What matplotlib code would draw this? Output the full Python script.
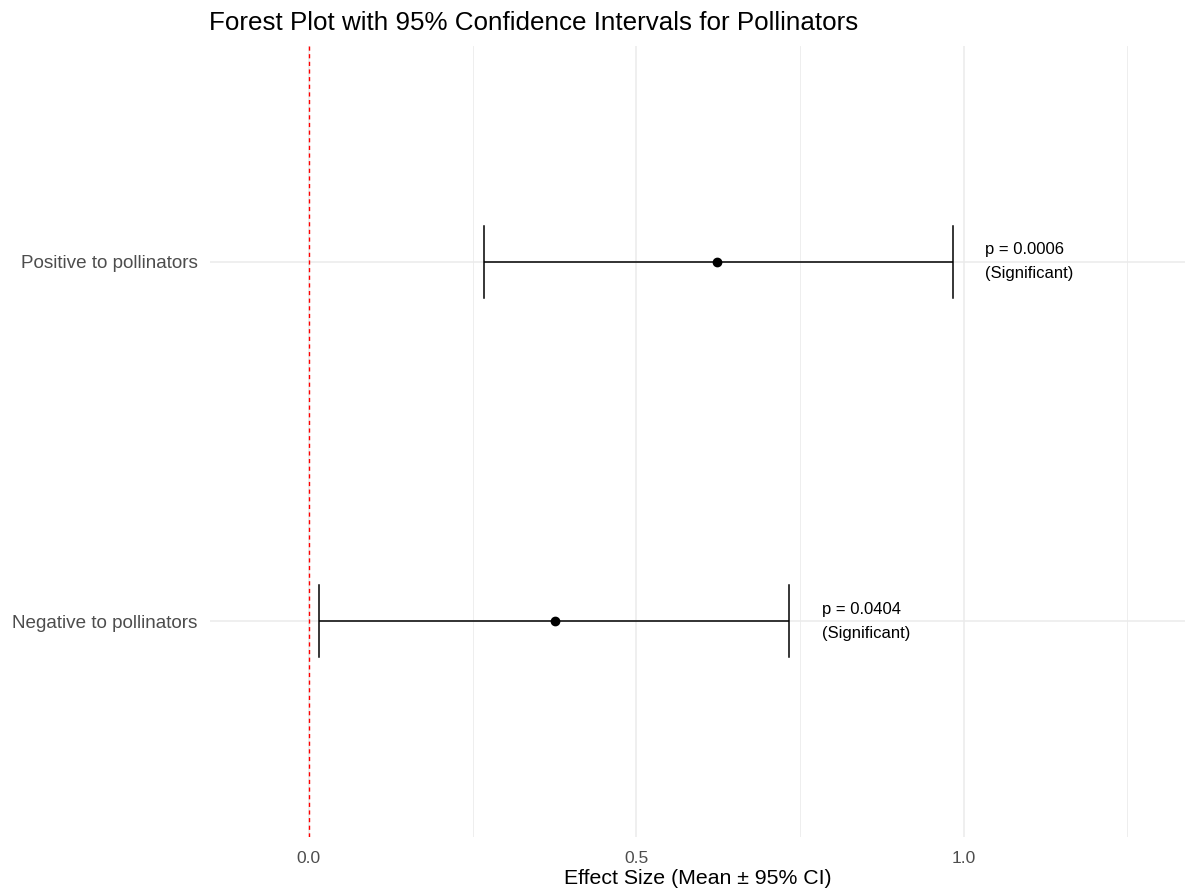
import matplotlib.pyplot as plt

plt.rcParams['font.family'] = ['Liberation Sans', 'DejaVu Sans']

# Effect sizes with 95% confidence intervals
groups = ["Negative to pollinators", "Positive to pollinators"]
means = [0.376, 0.624]
lower = [0.0153, 0.2676]
upper = [0.734, 0.983]
p_values = [0.0404, 0.0006]
xticks = [0.0, 0.5, 1.0]
xminor = [0.25, 0.75, 1.25]

fig = plt.figure(figsize=(11.87, 8.92), dpi=100)
ax = fig.add_axes([210 / 1187, 55 / 892, 975 / 1187, 791 / 892])

ypos = list(range(1, len(groups) + 1))

# grid lines
for x in xticks:
    ax.axvline(x, color="#ebebeb", lw=1.1, zorder=0)
for x in xminor:
    ax.axvline(x, color="#ebebeb", lw=0.6, zorder=0)
for y in ypos:
    ax.axhline(y, color="#ebebeb", lw=1.1, zorder=0)

# reference line at zero
ax.axvline(0, color="red", lw=1.0, ls=(0, (3, 2.5)), zorder=1)

# intervals and means
ax.errorbar(means, ypos, xerr=[[m - l for m, l in zip(means, lower)],
                               [u - m for m, u in zip(means, upper)]],
            fmt="o", color="black", ms=6, elinewidth=1.1, capsize=0, zorder=3)
for y, l, u in zip(ypos, lower, upper):
    ax.plot([l, l], [y - 0.1, y + 0.1], color="black", lw=1.1, zorder=3)
    ax.plot([u, u], [y - 0.1, y + 0.1], color="black", lw=1.1, zorder=3)

# p-value labels
for y, u, p in zip(ypos, upper, p_values):
    sig = "(Significant)" if p < 0.05 else "(Not significant)"
    ax.text(u + 0.05, y, f"p = {p:.4f}\n{sig}", ha="left", va="center",
            fontsize=12, linespacing=1.75, color="black")

ax.set_xlim(-0.151, 1.338)
ax.set_ylim(0.4, 2.6)
ax.set_xticks(xticks)
ax.set_xticklabels([f"{x:.1f}" for x in xticks])
ax.set_yticks(ypos)
ax.set_yticklabels(groups)
ax.tick_params(axis="both", length=0, colors="#4d4d4d", labelsize=13.6)
ax.tick_params(axis="x", pad=10, labelsize=12.5)
ax.tick_params(axis="y", pad=9)
for s in ax.spines.values():
    s.set_visible(False)

ax.set_xlabel("Effect Size (Mean ± 95% CI)", fontsize=15.3, labelpad=2)
fig.text(209 / 1187, 1 - 23 / 892, "Forest Plot with 95% Confidence Intervals for Pollinators",
         ha="left", va="center", fontsize=18.7)

fig.savefig("out.png", dpi=100)
